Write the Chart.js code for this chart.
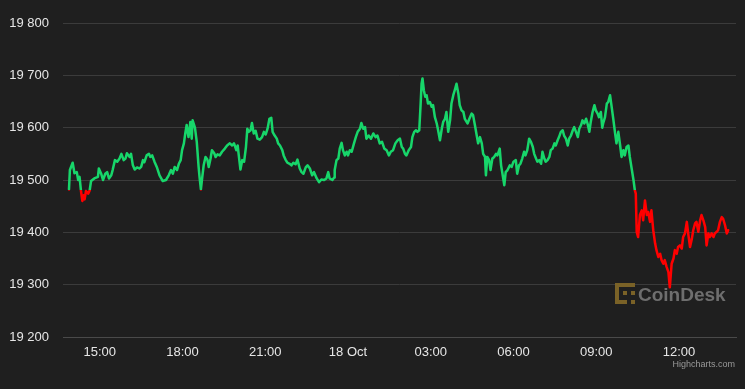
<!DOCTYPE html>
<html>
<head>
<meta charset="utf-8">
<title>BTC 24h</title>
<script src="https://cdn.jsdelivr.net/npm/chart.js@4/dist/chart.umd.min.js"></script>
<style>
  html, body { margin: 0; padding: 0; background: #1f1f1f; }
  #wrap { position: relative; width: 745px; height: 389px; }
</style>
</head>
<body>
<div id="wrap"><canvas id="price-chart" width="745" height="389"></canvas></div>
<script>
// Minutes since 17 Oct 00:00
var TIMES = [
  833, 835, 841, 845, 850, 853, 856, 859, 862, 865, 867, 870, 875, 878, 881, 888, 896, 898, 903, 907,
  912, 916, 920, 925, 928, 933, 938, 943, 947, 952, 956, 959, 965, 968, 972, 976, 981, 986, 990, 994,
  997, 1002, 1007, 1010, 1014, 1019, 1024, 1030, 1037, 1044, 1050, 1055, 1059, 1063, 1068, 1072, 1076, 1079, 1083, 1086,
  1089, 1093, 1097, 1100, 1102, 1107, 1111, 1115, 1117, 1120, 1123, 1126, 1130, 1134, 1137, 1141, 1144, 1149, 1152, 1156,
  1161, 1166, 1172, 1177, 1183, 1188, 1192, 1197, 1200, 1202, 1206, 1210, 1214, 1218, 1221, 1224, 1228, 1231, 1235, 1239,
  1243, 1248, 1253, 1257, 1261, 1265, 1269, 1273, 1276, 1279, 1285, 1288, 1292, 1297, 1300, 1304, 1308, 1313, 1317, 1321,
  1326, 1330, 1335, 1339, 1343, 1348, 1352, 1357, 1362, 1366, 1372, 1377, 1382, 1388, 1393, 1397, 1400, 1406, 1410, 1411,
  1415, 1419, 1422, 1426, 1429, 1433, 1437, 1440, 1444, 1448, 1453, 1457, 1461, 1466, 1469, 1473, 1477, 1480, 1485, 1490,
  1495, 1500, 1504, 1509, 1514, 1519, 1524, 1529, 1533, 1538, 1543, 1548, 1553, 1557, 1560, 1564, 1567, 1572, 1577, 1580,
  1584, 1588, 1591, 1595, 1598, 1600, 1602, 1605, 1608, 1611, 1614, 1618, 1622, 1625, 1629, 1633, 1636, 1640, 1644, 1647,
  1651, 1654, 1658, 1662, 1665, 1669, 1672, 1676, 1680, 1683, 1687, 1691, 1694, 1700, 1704, 1709, 1712, 1716, 1720, 1723,
  1727, 1731, 1734, 1738, 1740, 1743, 1747, 1750, 1754, 1758, 1762, 1765, 1770, 1773, 1776, 1780, 1783, 1787, 1792, 1796,
  1800, 1805, 1808, 1812, 1815, 1819, 1823, 1826, 1830, 1834, 1838, 1842, 1845, 1849, 1852, 1856, 1860, 1863, 1867, 1870,
  1874, 1878, 1881, 1885, 1889, 1892, 1896, 1899, 1903, 1907, 1910, 1914, 1918, 1921, 1925, 1929, 1932, 1936, 1940, 1943,
  1947, 1950, 1954, 1958, 1961, 1965, 1968, 1972, 1976, 1979, 1983, 1986, 1990, 1993, 1995, 1999, 2003, 2006, 2010, 2013,
  2017, 2021, 2024, 2028, 2032, 2035, 2039, 2042, 2046, 2050, 2053, 2057, 2061, 2064, 2066, 2068, 2071, 2075, 2079, 2082,
  2086, 2090, 2093, 2097, 2100, 2104, 2108, 2111, 2115, 2119, 2122, 2126, 2129, 2133, 2137, 2140, 2144, 2148, 2151, 2155,
  2158, 2162, 2166, 2169, 2173, 2177, 2180, 2184, 2188, 2191, 2195, 2198, 2202, 2206, 2209, 2213, 2217, 2220, 2224, 2227,
  2231, 2235, 2238, 2242, 2245, 2249, 2253, 2256, 2260, 2264, 2267
];

var PRICES = [
  19482, 19519, 19533, 19513, 19515, 19500, 19506, 19480, 19460, 19471, 19463, 19479, 19474, 19480, 19498, 19503, 19506, 19522, 19512, 19500,
  19512, 19515, 19503, 19509, 19519, 19538, 19535, 19541, 19550, 19538, 19541, 19551, 19544, 19550, 19528, 19520, 19524, 19522, 19525, 19538,
  19534, 19547, 19550, 19544, 19547, 19535, 19525, 19509, 19498, 19500, 19509, 19519, 19512, 19525, 19519, 19531, 19538, 19557, 19570, 19589,
  19605, 19582, 19611, 19579, 19614, 19600, 19573, 19525, 19506, 19482, 19506, 19528, 19544, 19539, 19525, 19541, 19557, 19551, 19544, 19549,
  19547, 19554, 19560, 19566, 19570, 19566, 19570, 19557, 19566, 19550, 19520, 19538, 19535, 19563, 19598, 19592, 19595, 19609, 19589, 19594,
  19579, 19577, 19582, 19592, 19587, 19598, 19617, 19619, 19592, 19587, 19579, 19570, 19566, 19557, 19547, 19539, 19533, 19531, 19528, 19533,
  19530, 19539, 19522, 19515, 19512, 19524, 19528, 19522, 19509, 19515, 19503, 19496, 19501, 19500, 19503, 19515, 19503, 19500, 19505, 19519,
  19538, 19541, 19560, 19571, 19557, 19547, 19554, 19547, 19557, 19554, 19570, 19582, 19592, 19598, 19609, 19598, 19601, 19579, 19585, 19579,
  19589, 19582, 19585, 19570, 19573, 19560, 19557, 19547, 19554, 19557, 19570, 19576, 19579, 19563, 19560, 19550, 19547, 19557, 19563, 19582,
  19592, 19595, 19592, 19595, 19646, 19684, 19694, 19671, 19659, 19662, 19646, 19649, 19640, 19643, 19620, 19608, 19595, 19576, 19598, 19611,
  19617, 19630, 19592, 19614, 19646, 19662, 19671, 19684, 19665, 19643, 19633, 19630, 19617, 19608, 19617, 19627, 19624, 19605, 19585, 19570,
  19582, 19570, 19550, 19544, 19509, 19544, 19538, 19519, 19541, 19544, 19550, 19547, 19560, 19528, 19512, 19490, 19515, 19519, 19528, 19525,
  19535, 19538, 19512, 19528, 19531, 19541, 19554, 19547, 19557, 19579, 19573, 19563, 19550, 19541, 19535, 19538, 19531, 19554, 19541, 19535,
  19538, 19544, 19557, 19560, 19570, 19566, 19576, 19582, 19592, 19595, 19585, 19579, 19566, 19579, 19585, 19595, 19601, 19592, 19582, 19598,
  19605, 19614, 19608, 19617, 19608, 19592, 19611, 19630, 19643, 19633, 19627, 19620, 19630, 19600, 19608, 19620, 19646, 19649, 19662, 19643,
  19617, 19589, 19570, 19592, 19566, 19544, 19557, 19547, 19563, 19566, 19544, 19522, 19500, 19480, 19474, 19401, 19391, 19433, 19442, 19423,
  19461, 19433, 19439, 19420, 19442, 19404, 19379, 19366, 19353, 19359, 19347, 19340, 19347, 19334, 19324, 19295, 19340, 19350, 19366, 19359,
  19372, 19375, 19369, 19391, 19398, 19420, 19398, 19372, 19388, 19404, 19417, 19420, 19401, 19423, 19433, 19423, 19410, 19375, 19398, 19391,
  19398, 19391, 19398, 19401, 19404, 19420, 19429, 19426, 19414, 19398, 19404
];

// Opening price: line turns red below it
var OPEN_PRICE = 19481;

var X_TICKS = [900, 1080, 1260, 1440, 1620, 1800, 1980, 2160];
var X_MIN = 820;
var X_MAX = 2284;

var Y_MIN = 19200;
var Y_MAX = 19800;
var Y_STEP = 100;

var GREEN = '#17d66a';
var RED = '#ff0000';
var BG = '#1f1f1f';
var GRID = '#3b3b3b';
var LABEL = '#e6e6e6';
var FONT = '"Liberation Sans", Arial, sans-serif';

// ── Helpers ──

function pad2(n) { return (n < 10 ? '0' : '') + n; }

function timeLabel(m) {
  if (m % 1440 === 0) return (17 + m / 1440) + ' Oct';
  var mm = m % 1440;
  return pad2(Math.floor(mm / 60)) + ':' + pad2(mm % 60);
}

function priceLabel(v) {
  var s = String(Math.round(v));
  return s.replace(/\B(?=(\d{3})+(?!\d))/g, ' ');
}

// hard split of the line colour at the opening price
function zoneColor(context) {
  var chart = context.chart;
  var area = chart.chartArea;
  if (!area) return GREEN;
  var y = chart.scales.y.getPixelForValue(OPEN_PRICE);
  var stop = (y - area.top) / (area.bottom - area.top);
  stop = Math.max(0, Math.min(1, stop));
  var g = chart.ctx.createLinearGradient(0, area.top, 0, area.bottom);
  g.addColorStop(0, GREEN);
  g.addColorStop(stop, GREEN);
  g.addColorStop(stop, RED);
  g.addColorStop(1, RED);
  return g;
}

// ── Chart ──

var points = TIMES.map(function (t, i) { return { x: t, y: PRICES[i] }; });

var ctx = document.getElementById('price-chart').getContext('2d');

new Chart(ctx, {
  type: 'line',
  data: {
    datasets: [{
      data: points,
      borderColor: zoneColor,
      borderWidth: 2.5,
      borderJoinStyle: 'round',
      borderCapStyle: 'round',
      pointRadius: 0,
      tension: 0,
      fill: false,
    }],
  },
  options: {
    responsive: false,
    animation: false,
    layout: { padding: { left: 0, right: 9, top: 23, bottom: 0 } },
    plugins: {
      legend: { display: false },
      tooltip: { enabled: false },
    },
    scales: {
      x: {
        type: 'linear',
        min: X_MIN,
        max: X_MAX,
        grid: { display: false, drawTicks: false },
        border: { display: true, color: '#4a4a4a', width: 1 },
        ticks: {
          color: LABEL,
          font: { family: FONT, size: 13 },
          padding: 8,
          maxRotation: 0,
          autoSkip: false,
          callback: function (v) { return timeLabel(v); },
        },
        afterBuildTicks: function (scale) {
          scale.ticks = X_TICKS.map(function (v) { return { value: v }; });
        },
        afterFit: function (scale) { scale.height = 52; },
      },
      y: {
        min: Y_MIN,
        max: Y_MAX,
        grid: { color: GRID, drawTicks: false },
        border: { display: false },
        ticks: {
          stepSize: Y_STEP,
          color: LABEL,
          font: { family: FONT, size: 13 },
          padding: 14,
          callback: function (v) { return priceLabel(v); },
        },
        afterFit: function (scale) { scale.width = 63; },
      },
    },
  },
  plugins: [{
    id: 'background',
    beforeDraw: function (chart) {
      var c = chart.ctx;
      c.save();
      c.fillStyle = BG;
      c.fillRect(0, 0, chart.width, chart.height);
      c.restore();
    },
  }, {
    // CoinDesk watermark sits under the line
    id: 'watermark',
    beforeDatasetsDraw: function (chart) {
      var c = chart.ctx;
      var lx = 615, ly = 283;
      c.save();
      c.fillStyle = '#7a6227';
      // bracket-like logo built from small blocks
      c.fillRect(lx, ly, 20, 4);
      c.fillRect(lx, ly, 4, 21);
      c.fillRect(lx, ly + 17, 12, 4);
      c.fillRect(lx + 8, ly + 8, 4, 4);
      c.fillRect(lx + 16, ly + 8, 4, 4);
      c.fillRect(lx + 16, ly + 17, 4, 4);
      c.fillStyle = '#6e6e6e';
      c.font = 'bold 19px ' + FONT;
      c.textAlign = 'left';
      c.textBaseline = 'alphabetic';
      c.fillText('CoinDesk', 638, 301);
      c.restore();
    },
  }, {
    id: 'credits',
    afterDraw: function (chart) {
      var c = chart.ctx;
      c.save();
      c.fillStyle = '#9a9a9a';
      c.font = '9px ' + FONT;
      c.textAlign = 'right';
      c.textBaseline = 'alphabetic';
      c.fillText('Highcharts.com', 735, 367);
      c.restore();
    },
  }],
});
</script>
</body>
</html>
